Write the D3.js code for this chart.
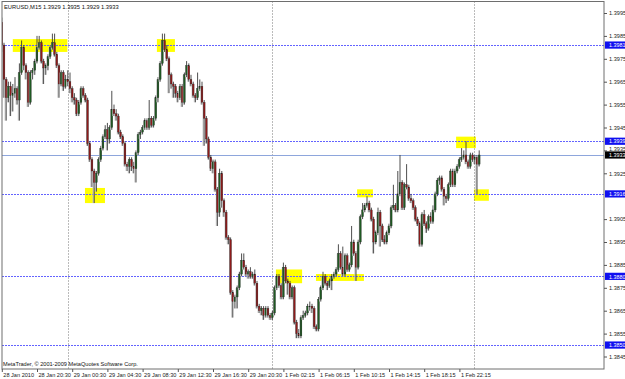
<!DOCTYPE html>
<html>
<head>
<meta charset="utf-8">
<script src="https://cdn.jsdelivr.net/npm/d3@7"></script>
<style>
    body { margin: 0; background: #ffffff; }
    svg text { font-family: "Liberation Sans", Arial, sans-serif; }
</style>
</head>
<body>
<div id="chart"></div>
<script>
var symbolTitle = "EURUSD,M15  1.3929 1.3935 1.3929 1.3933",
    copyright = "MetaTrader, \u00a9 2001-2009 MetaQuotes Software Corp.";

// OHLC of the M15 bars, left to right
var opens = [
    1.3991,1.3981,1.3966,1.3958,1.3963,1.3959,1.3960,1.3962,1.3957,1.3969,
    1.3980,1.3972,1.3969,1.3956,1.3969,1.3970,1.3974,1.3980,1.3982,1.3974,
    1.3971,1.3972,1.3976,1.3980,1.3982,1.3977,1.3972,1.3964,1.3969,1.3963,
    1.3966,1.3965,1.3962,1.3958,1.3957,1.3951,1.3956,1.3962,1.3959,1.3957,
    1.3938,1.3931,1.3926,1.3921,1.3925,1.3931,1.3936,1.3941,1.3944,1.3940,
    1.3945,1.3953,1.3951,1.3950,1.3943,1.3941,1.3938,1.3929,1.3928,1.3931,
    1.3928,1.3927,1.3934,1.3942,1.3943,1.3945,1.3948,1.3945,1.3949,1.3946,
    1.3949,1.3958,1.3966,1.3973,1.3983,1.3979,1.3975,1.3968,1.3964,1.3963,
    1.3960,1.3958,1.3963,1.3956,1.3968,1.3972,1.3966,1.3964,1.3959,1.3958,
    1.3962,1.3963,1.3956,1.3949,1.3940,1.3932,1.3927,1.3930,1.3918,1.3908,
    1.3925,1.3913,1.3908,1.3897,1.3896,1.3873,1.3869,1.3871,1.3875,1.3881,
    1.3887,1.3884,1.3881,1.3882,1.3880,1.3881,1.3877,1.3867,1.3865,1.3866,
    1.3863,1.3866,1.3863,1.3862,1.3864,1.3875,1.3880,1.3876,1.3871,1.3884,
    1.3878,1.3877,1.3871,1.3875,1.3860,1.3855,1.3854,1.3862,1.3863,1.3864,
    1.3867,1.3867,1.3866,1.3858,1.3857,1.3870,1.3875,1.3880,1.3877,1.3876,
    1.3878,1.3880,1.3881,1.3883,1.3890,1.3884,1.3881,1.3889,1.3883,1.3885,
    1.3895,1.3890,1.3884,1.3895,1.3906,1.3909,1.3911,1.3912,1.3909,1.3905,
    1.3895,1.3899,1.3908,1.3902,1.3896,1.3895,1.3899,1.3902,1.3910,1.3911,
    1.3909,1.3916,1.3921,1.3910,1.3920,1.3919,1.3914,1.3913,1.3910,1.3905,
    1.3903,1.3894,1.3907,1.3903,1.3901,1.3906,1.3904,1.3909,1.3916,1.3922,
    1.3923,1.3918,1.3915,1.3914,1.3920,1.3926,1.3920,1.3926,1.3928,1.3931,
    1.3932,1.3933,1.3930,1.3928,1.3933,1.3931,1.3932,1.3929
];
var highs = [
    1.3993,1.3982,1.3967,1.3965,1.3965,1.3964,1.3967,1.3963,1.3973,1.3983,
    1.3981,1.3973,1.3970,1.3970,1.3971,1.3975,1.3985,1.3985,1.3983,1.3975,
    1.3973,1.3977,1.3981,1.3986,1.3986,1.3978,1.3973,1.3970,1.3970,1.3968,
    1.3970,1.3969,1.3963,1.3960,1.3958,1.3957,1.3963,1.3963,1.3960,1.3958,
    1.3939,1.3932,1.3927,1.3926,1.3932,1.3937,1.3942,1.3946,1.3947,1.3946,
    1.3961,1.3955,1.3953,1.3951,1.3944,1.3942,1.3939,1.3930,1.3932,1.3932,
    1.3930,1.3935,1.3943,1.3944,1.3946,1.3949,1.3949,1.3957,1.3950,1.3950,
    1.3959,1.3967,1.3974,1.3986,1.3986,1.3981,1.3976,1.3969,1.3965,1.3964,
    1.3961,1.3964,1.3964,1.3969,1.3974,1.3973,1.3968,1.3965,1.3960,1.3969,
    1.3966,1.3965,1.3957,1.3950,1.3941,1.3933,1.3931,1.3931,1.3919,1.3927,
    1.3926,1.3914,1.3909,1.3898,1.3897,1.3874,1.3872,1.3876,1.3882,1.3890,
    1.3890,1.3885,1.3883,1.3884,1.3882,1.3883,1.3878,1.3868,1.3867,1.3867,
    1.3867,1.3867,1.3864,1.3865,1.3876,1.3881,1.3881,1.3877,1.3886,1.3885,
    1.3879,1.3878,1.3876,1.3876,1.3861,1.3857,1.3863,1.3865,1.3865,1.3868,
    1.3869,1.3868,1.3867,1.3859,1.3871,1.3876,1.3882,1.3881,1.3878,1.3879,
    1.3881,1.3882,1.3884,1.3894,1.3891,1.3893,1.3890,1.3890,1.3886,1.3902,
    1.3896,1.3891,1.3896,1.3907,1.3912,1.3912,1.3915,1.3913,1.3910,1.3906,
    1.3900,1.3910,1.3909,1.3903,1.3898,1.3900,1.3903,1.3911,1.3920,1.3912,
    1.3926,1.3933,1.3922,1.3921,1.3929,1.3920,1.3916,1.3914,1.3911,1.3906,
    1.3904,1.3908,1.3909,1.3904,1.3907,1.3908,1.3911,1.3917,1.3923,1.3924,
    1.3924,1.3919,1.3916,1.3921,1.3927,1.3927,1.3927,1.3929,1.3932,1.3936,
    1.3935,1.3939,1.3931,1.3934,1.3934,1.3933,1.3933,1.3935
];
var lows = [
    1.3978,1.3958,1.3948,1.3956,1.3950,1.3952,1.3958,1.3955,1.3948,1.3968,
    1.3970,1.3966,1.3954,1.3955,1.3966,1.3968,1.3973,1.3979,1.3973,1.3964,
    1.3968,1.3970,1.3975,1.3979,1.3976,1.3971,1.3958,1.3963,1.3961,1.3962,
    1.3963,1.3960,1.3956,1.3955,1.3950,1.3950,1.3955,1.3958,1.3956,1.3937,
    1.3930,1.3919,1.3912,1.3917,1.3924,1.3930,1.3935,1.3940,1.3935,1.3938,
    1.3944,1.3950,1.3948,1.3942,1.3940,1.3937,1.3928,1.3926,1.3925,1.3926,
    1.3925,1.3921,1.3933,1.3940,1.3942,1.3944,1.3944,1.3944,1.3945,1.3945,
    1.3948,1.3956,1.3965,1.3972,1.3978,1.3974,1.3960,1.3962,1.3958,1.3958,
    1.3956,1.3957,1.3954,1.3955,1.3967,1.3965,1.3963,1.3958,1.3956,1.3957,
    1.3961,1.3955,1.3937,1.3938,1.3931,1.3926,1.3925,1.3917,1.3902,1.3906,
    1.3910,1.3906,1.3896,1.3894,1.3872,1.3862,1.3866,1.3866,1.3874,1.3880,
    1.3883,1.3880,1.3879,1.3879,1.3879,1.3876,1.3866,1.3864,1.3863,1.3861,
    1.3862,1.3862,1.3861,1.3861,1.3863,1.3874,1.3875,1.3870,1.3870,1.3877,
    1.3872,1.3870,1.3870,1.3859,1.3853,1.3853,1.3853,1.3861,1.3862,1.3863,
    1.3865,1.3864,1.3857,1.3856,1.3856,1.3869,1.3874,1.3876,1.3874,1.3875,
    1.3874,1.3879,1.3880,1.3882,1.3883,1.3880,1.3880,1.3882,1.3882,1.3884,
    1.3889,1.3878,1.3883,1.3894,1.3905,1.3908,1.3910,1.3908,1.3904,1.3890,
    1.3894,1.3898,1.3893,1.3895,1.3894,1.3894,1.3898,1.3901,1.3909,1.3908,
    1.3908,1.3915,1.3909,1.3909,1.3918,1.3913,1.3912,1.3909,1.3904,1.3902,
    1.3893,1.3893,1.3902,1.3899,1.3900,1.3903,1.3903,1.3908,1.3915,1.3920,
    1.3917,1.3911,1.3912,1.3913,1.3919,1.3919,1.3919,1.3925,1.3927,1.3930,
    1.3931,1.3929,1.3927,1.3927,1.3930,1.3929,1.3916,1.3928
];
var closes = [
    1.3981,1.3966,1.3958,1.3963,1.3959,1.3960,1.3962,1.3957,1.3969,1.3980,
    1.3972,1.3969,1.3956,1.3969,1.3970,1.3974,1.3980,1.3982,1.3974,1.3971,
    1.3972,1.3976,1.3980,1.3982,1.3977,1.3972,1.3964,1.3969,1.3963,1.3966,
    1.3965,1.3962,1.3958,1.3957,1.3951,1.3956,1.3962,1.3959,1.3957,1.3938,
    1.3931,1.3926,1.3921,1.3925,1.3931,1.3936,1.3941,1.3944,1.3940,1.3945,
    1.3953,1.3951,1.3950,1.3943,1.3941,1.3938,1.3929,1.3928,1.3931,1.3928,
    1.3927,1.3934,1.3942,1.3943,1.3945,1.3948,1.3945,1.3949,1.3946,1.3949,
    1.3958,1.3966,1.3973,1.3983,1.3979,1.3975,1.3968,1.3964,1.3963,1.3960,
    1.3958,1.3963,1.3956,1.3968,1.3972,1.3966,1.3964,1.3959,1.3958,1.3962,
    1.3963,1.3956,1.3949,1.3940,1.3932,1.3927,1.3930,1.3918,1.3908,1.3925,
    1.3913,1.3908,1.3897,1.3896,1.3873,1.3869,1.3871,1.3875,1.3881,1.3887,
    1.3884,1.3881,1.3882,1.3880,1.3881,1.3877,1.3867,1.3865,1.3866,1.3863,
    1.3866,1.3863,1.3862,1.3864,1.3875,1.3880,1.3876,1.3871,1.3884,1.3878,
    1.3877,1.3871,1.3875,1.3860,1.3855,1.3854,1.3862,1.3863,1.3864,1.3867,
    1.3867,1.3866,1.3858,1.3857,1.3870,1.3875,1.3880,1.3877,1.3876,1.3878,
    1.3880,1.3881,1.3883,1.3890,1.3884,1.3881,1.3889,1.3883,1.3885,1.3895,
    1.3890,1.3884,1.3895,1.3906,1.3909,1.3911,1.3912,1.3909,1.3905,1.3895,
    1.3899,1.3908,1.3902,1.3896,1.3895,1.3899,1.3902,1.3910,1.3911,1.3909,
    1.3916,1.3921,1.3910,1.3920,1.3919,1.3914,1.3913,1.3910,1.3905,1.3903,
    1.3894,1.3907,1.3903,1.3901,1.3906,1.3904,1.3909,1.3916,1.3922,1.3923,
    1.3918,1.3915,1.3914,1.3920,1.3926,1.3920,1.3926,1.3928,1.3931,1.3932,
    1.3933,1.3930,1.3928,1.3933,1.3931,1.3932,1.3929,1.3933
];

// price scale labels (1.3915 is hidden under the 1.3916 tag)
var priceTicks = [1.3995, 1.3985, 1.3975, 1.3965, 1.3955, 1.3945, 1.3935, 1.3925,
                  1.3905, 1.3895, 1.3885, 1.3875, 1.3865, 1.3855, 1.3845];

// time scale: bar index and label
var timeBars = [0, 16, 32, 48, 64, 80, 96, 112, 128, 144, 160, 176, 192, 208],
    timeLabels = ["28 Jan 2010", "28 Jan 20:30", "29 Jan 00:30", "29 Jan 04:30", "29 Jan 08:30",
                  "29 Jan 12:30", "29 Jan 16:30", "29 Jan 20:30", "1 Feb 02:15", "1 Feb 06:15",
                  "1 Feb 10:15", "1 Feb 14:15", "1 Feb 18:15", "1 Feb 22:15"];

// day separators (bar position)
var separatorBars = [30.1, 122.8, 214.6];

// horizontal lines drawn by hand, and the bid line
var levelLines = [1.3981, 1.3939, 1.3916, 1.3880, 1.3850],
    bidPrice = 1.3933;

// yellow marker boxes: [from bar, to bar, top price, bottom price]
var boxFrom = [5, 70.5, 37.8, 124.6, 142.8, 161.5, 206.5, 214.6],
    boxTo = [29.8, 78.7, 46.9, 136.5, 164.6, 168.7, 215.5, 221.4],
    boxTop = [1.39836, 1.39836, 1.39186, 1.38830, 1.38810, 1.39180, 1.39410, 1.39180],
    boxBottom = [1.39780, 1.39780, 1.39120, 1.38770, 1.38780, 1.39145, 1.39360, 1.39130];

var width = 625,
    height = 379,
    plotLeft = 2,
    plotRight = 604,
    plotTop = 1.5,
    plotBottom = 369;

var x = d3.scaleLinear().domain([0, 272]).range([1.8, 600.2]);
var y = d3.scaleLinear().domain([1.3845, 1.3995]).range([356.5, 13]);

var bars = closes.map(function (c, i) {
    return {i: i, o: opens[i], h: highs[i], l: lows[i], c: c};
});

var svg = d3.select("#chart").append("svg")
    .attr("width", width)
    .attr("height", height)
    .style("display", "block");

svg.append("rect")
    .attr("width", width).attr("height", height)
    .attr("fill", "#ffffff");

svg.append("defs").append("clipPath").attr("id", "plotclip")
    .append("rect")
    .attr("x", plotLeft).attr("y", plotTop)
    .attr("width", plotRight - plotLeft).attr("height", plotBottom - plotTop);

var plot = svg.append("g").attr("clip-path", "url(#plotclip)");

// yellow boxes
plot.selectAll(".box")
    .data(boxFrom)
    .enter().append("rect")
    .attr("class", "box")
    .attr("x", function (d) { return x(d); })
    .attr("width", function (d, k) { return x(boxTo[k]) - x(d); })
    .attr("y", function (d, k) { return y(boxTop[k]); })
    .attr("height", function (d, k) { return y(boxBottom[k]) - y(boxTop[k]); })
    .attr("fill", "#ffff00");

// day separators
plot.selectAll(".sep")
    .data(separatorBars)
    .enter().append("line")
    .attr("x1", function (d) { return Math.round(x(d)) + 0.5; })
    .attr("x2", function (d) { return Math.round(x(d)) + 0.5; })
    .attr("y1", plotTop).attr("y2", plotBottom)
    .attr("stroke", "#777777")
    .attr("stroke-dasharray", "1,2");

// bid line
plot.append("line")
    .attr("x1", plotLeft).attr("x2", plotRight)
    .attr("y1", Math.round(y(bidPrice)) + 0.5).attr("y2", Math.round(y(bidPrice)) + 0.5)
    .attr("stroke", "#8ea6dc");

// dashed level lines
plot.selectAll(".level")
    .data(levelLines)
    .enter().append("line")
    .attr("x1", plotLeft).attr("x2", plotRight)
    .attr("y1", function (d) { return Math.round(y(d)) + 0.5; })
    .attr("y2", function (d) { return Math.round(y(d)) + 0.5; })
    .attr("stroke", "#6363ff")
    .attr("stroke-dasharray", "2,1");

// candles
var candle = plot.selectAll(".candle")
    .data(bars)
    .enter().append("g")
    .attr("class", "candle");

// grey halo left of each bar
candle.append("rect")
    .attr("x", function (d) { return x(d.i) - 1.6; })
    .attr("width", 1.3)
    .attr("y", function (d) { return y(Math.max(d.o, d.c)); })
    .attr("height", function (d) { return Math.max(1, y(d.l) - y(Math.max(d.o, d.c))); })
    .attr("fill", "#c4c4c4");

candle.append("line")
    .attr("x1", function (d) { return x(d.i); })
    .attr("x2", function (d) { return x(d.i); })
    .attr("y1", function (d) { return y(d.h); })
    .attr("y2", function (d) { return y(d.l); })
    .attr("stroke", "#3a3a3a")
    .attr("stroke-width", 0.9);

candle.append("rect")
    .attr("x", function (d) { return x(d.i) - 0.9; })
    .attr("width", 1.8)
    .attr("y", function (d) { return y(Math.max(d.o, d.c)); })
    .attr("height", function (d) { return Math.max(0.8, Math.abs(y(d.o) - y(d.c))); })
    .attr("fill", function (d) { return d.c >= d.o ? "#1f5a22" : "#8e1b1b"; })
    .attr("stroke", "#222222")
    .attr("stroke-width", 0.3);

// frame
svg.append("rect")
    .attr("x", plotLeft).attr("y", plotTop)
    .attr("width", plotRight - plotLeft).attr("height", plotBottom - plotTop)
    .attr("fill", "none")
    .attr("stroke", "#6e6e6e");

// price labels of the lines on the scale
var tags = levelLines.map(function (d) { return {p: d, fill: "#1010f0"}; });
tags.push({p: bidPrice, fill: "#000000"});

// price axis
var yAxis = d3.axisRight(y)
    .tickValues(priceTicks)
    .tickSize(3)
    .tickPadding(2)
    .tickFormat(d3.format(".4f"));

svg.append("g")
    .attr("transform", "translate(" + plotRight + ",0)")
    .call(yAxis)
    .call(function (g) { g.select(".domain").remove(); })
    .call(function (g) {
        g.selectAll("line").attr("stroke", "#555555");
        g.selectAll("text")
            .attr("fill", "#222222")
            .style("font-size", "5.6px")
            .attr("y", function (d) {
                // a label that sits right on top of a tag is nudged up a little
                var near = tags.some(function (t) { return Math.abs(t.p - d) < 0.00025 && t.p < d; });
                return near ? -1.3 : 0;
            });
    });

// time axis
var xAxis = d3.axisBottom(x)
    .tickValues(timeBars)
    .tickSize(3)
    .tickPadding(1)
    .tickFormat(function (d, k) { return timeLabels[k]; });

svg.append("g")
    .attr("transform", "translate(0," + plotBottom + ")")
    .call(xAxis)
    .call(function (g) { g.select(".domain").remove(); })
    .call(function (g) {
        g.selectAll("line").attr("stroke", "#555555");
        g.selectAll("text")
            .attr("text-anchor", "start")
            .attr("dx", "1")
            .attr("fill", "#222222")
            .style("font-size", "5.6px");
    });

var tag = svg.selectAll(".tag")
    .data(tags)
    .enter().append("g")
    .attr("transform", function (d) { return "translate(" + (plotRight + 1) + "," + y(d.p) + ")"; });

tag.append("rect")
    .attr("x", 0).attr("y", -3.6)
    .attr("width", 20).attr("height", 7.2)
    .attr("fill", function (d) { return d.fill; });

tag.append("text")
    .attr("x", 4).attr("y", 2.2)
    .attr("fill", "#ffffff")
    .style("font-size", "5.4px")
    .text(function (d) { return d3.format(".4f")(d.p); });

// texts in the chart window
svg.append("text")
    .attr("x", 4).attr("y", 9)
    .attr("fill", "#111111")
    .style("font-size", "5.8px")
    .text(symbolTitle);

svg.append("text")
    .attr("x", 3).attr("y", 366)
    .attr("fill", "#111111")
    .style("font-size", "5.6px")
    .text(copyright);
</script>
</body>
</html>
